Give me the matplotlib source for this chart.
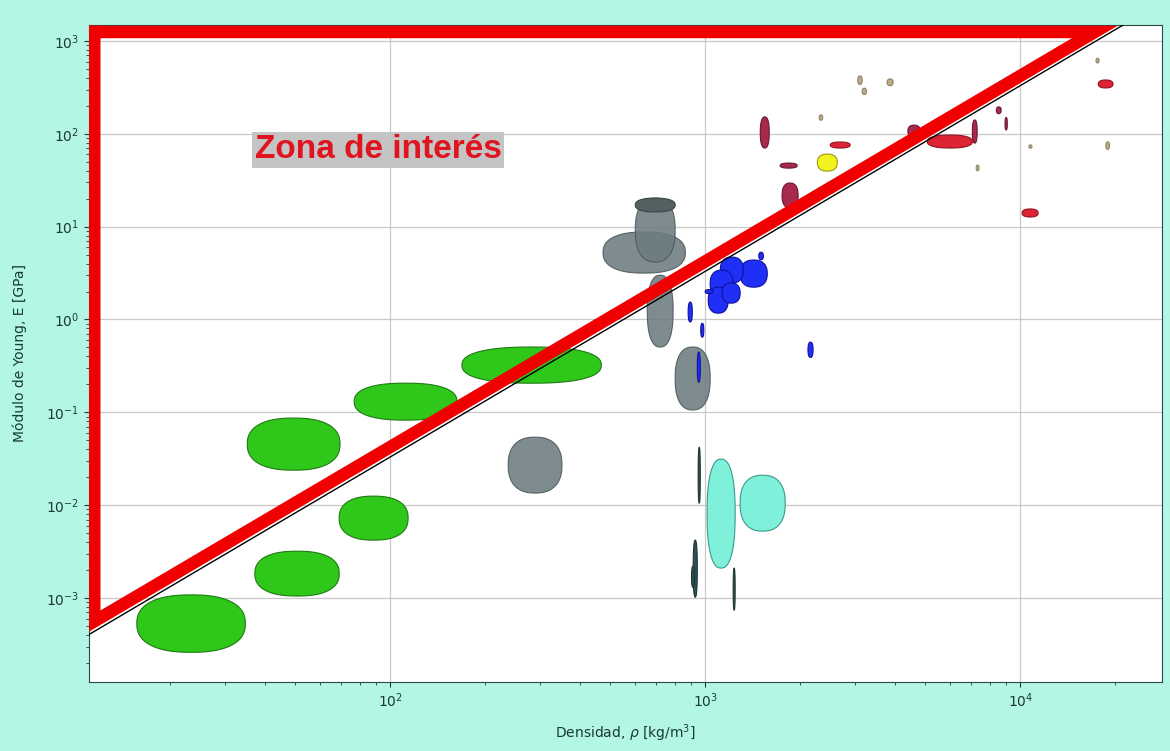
import numpy as np
import matplotlib
matplotlib.use("Agg")
import matplotlib.pyplot as plt

# Rangos de densidad [kg/m3] y modulo de Young [GPa] de cada familia
verdes_rho = [(15.7, 34.7), (37.2, 68.9), (68.9, 114), (35.2, 69.3), (76.9, 163), (169, 468)]
verdes_E = [(2.6e-4, 1.08e-3), (1.05e-3, 3.19e-3), (4.2e-3, 0.0125), (0.0238, 0.0867), (0.0824, 0.206), (0.206, 0.505)]

grises_rho = [(237, 351), (474, 865), (600, 803), (655, 791), (803, 1037)]
grises_E = [(0.0135, 0.054), (3.16, 8.75), (4.16, 20.3), (0.505, 3.0), (0.106, 0.505)]

tapa_rho = [(600, 803)]
tapa_E = [(14.4, 20.3)]

azules_rho = [(1291, 1574), (1117, 1321), (1037, 1227), (1023, 1183), (1132, 1291),
              (1480, 1530), (1000, 1060), (883, 910), (968, 990), (944, 965), (2120, 2200)]
azules_E = [(2.23, 4.37), (2.47, 4.7), (1.74, 3.4), (1.17, 2.23), (1.5, 2.47),
            (4.4, 5.3), (1.9, 2.1), (0.94, 1.54), (0.645, 0.91), (0.211, 0.446), (0.39, 0.57)]

cian_rho = [(1014, 1245), (1291, 1795)]
cian_E = [(2.1e-3, 0.0313), (5.25e-3, 0.021)]

oscuros_rho = [(950, 965), (916, 944), (905, 925), (1227, 1245)]
oscuros_E = [(0.0105, 0.042), (1.02e-3, 4.2e-3), (1.3e-3, 2.2e-3), (7.4e-4, 2.1e-3)]

granates_rho = [(1496, 1597), (1730, 1959), (1754, 1972), (4400, 4815), (7050, 7300), (8950, 9100), (8400, 8700)]
granates_E = [(70.3, 152), (42.7, 48.4), (15.9, 29.5), (92.5, 124), (79.4, 141), (110, 150), (165, 195)]

rojos_rho = [(2495, 2885), (5070, 7050), (10140, 11400), (17700, 19700)]
rojos_E = [(70.3, 81.6), (70.3, 97), (12.7, 15.5), (312, 380)]

amarillos_rho = [(2270, 2626)]
amarillos_E = [(39.7, 60.5)]

pequenos_rho = [(3050, 3150), (3150, 3250), (3780, 3950), (2300, 2360), (7250, 7400), (10650, 10900), (18700, 19200), (17400, 17800)]
pequenos_E = [(340, 420), (265, 310), (330, 390), (140, 160), (40, 46), (70, 76), (68, 82), (580, 650)]

# Zona de interes (triangulo) y recta E = C*rho^2
zona_rho = [11.5, 17250, 11.5, 11.5]
zona_E = [1250, 1250, 5.6e-4, 1250]
c_linea = 3.3e-6
rho_linea = [11.0, 3.0e4]

familias = [
    (verdes_rho, verdes_E, "#2fc81a", "#1f7a14", 1.0),
    (grises_rho, grises_E, "#6c7c80", "#4b575a", 0.88),
    (tapa_rho, tapa_E, "#545f62", "#3c4547", 1.0),
    (azules_rho, azules_E, "#1f2ff5", "#1010a0", 1.0),
    (cian_rho, cian_E, "#7ff0da", "#3a9c8a", 1.0),
    (oscuros_rho, oscuros_E, "#2f4f4f", "#1f3535", 1.0),
    (granates_rho, granates_E, "#a8284e", "#6a1a30", 1.0),
    (rojos_rho, rojos_E, "#dc2434", "#901520", 1.0),
    (amarillos_rho, amarillos_E, "#f2f21e", "#9a9a10", 1.0),
    (pequenos_rho, pequenos_E, "#a89a70", "#807050", 0.8),
]


def mancha(ax, xr, yr, fc, ec, alpha, n=2.4):
    # superelipse dibujada en espacio logaritmico
    t = np.linspace(0, 2 * np.pi, 240)
    lx = np.log10(xr)
    ly = np.log10(yr)
    cx, rx = (lx[0] + lx[1]) / 2, (lx[1] - lx[0]) / 2
    cy, ry = (ly[0] + ly[1]) / 2, (ly[1] - ly[0]) / 2
    c, s = np.cos(t), np.sin(t)
    u = np.sign(c) * np.abs(c) ** (2 / n)
    v = np.sign(s) * np.abs(s) ** (2 / n)
    ax.fill(10 ** (cx + rx * u), 10 ** (cy + ry * v), facecolor=fc, edgecolor=ec,
            linewidth=0.8, alpha=alpha, zorder=3)


fig = plt.figure(figsize=(11.7, 7.51), dpi=100, facecolor="#b3f6e5")
ax = fig.add_axes([0.0761, 0.0919, 0.9171, 0.8748])
ax.set_xscale("log")
ax.set_yscale("log")
ax.set_xlim(11.07, 28200)
ax.set_ylim(1.245e-4, 1486)

ax.grid(True, which="major", color="#c8c8c8", linewidth=0.9, zorder=0)
ax.set_axisbelow(True)

for rhos, Es, fc, ec, a in familias:
    for xr, yr in zip(rhos, Es):
        mancha(ax, xr, yr, fc, ec, a)

rl = np.array(rho_linea)
ax.plot(rl, c_linea * rl ** 2, color="black", linewidth=1.0, zorder=4)
ax.plot(zona_rho, zona_E, color="#f00000", linewidth=9, solid_joinstyle="miter",
        solid_capstyle="projecting", zorder=5)

ax.text(37.2, 67, "Zona de interés", color="#e0141e", fontsize=24, fontweight="bold",
        family="Liberation Sans", va="center", ha="left", zorder=6,
        bbox=dict(facecolor="#c4c4c4", edgecolor="none", pad=2))

ax.set_xlabel(r"Densidad, $\rho$ [kg/m$^3$]", fontsize=10, color="#1b3a34", labelpad=9)
ax.set_ylabel("Módulo de Young, E [GPa]", fontsize=10, color="#1b3a34", labelpad=14)
ax.tick_params(which="both", colors="#1b3a34", labelsize=10)
for sp in ax.spines.values():
    sp.set_color("#2a4a44")

fig.savefig("out.png", dpi=100, facecolor=fig.get_facecolor())
